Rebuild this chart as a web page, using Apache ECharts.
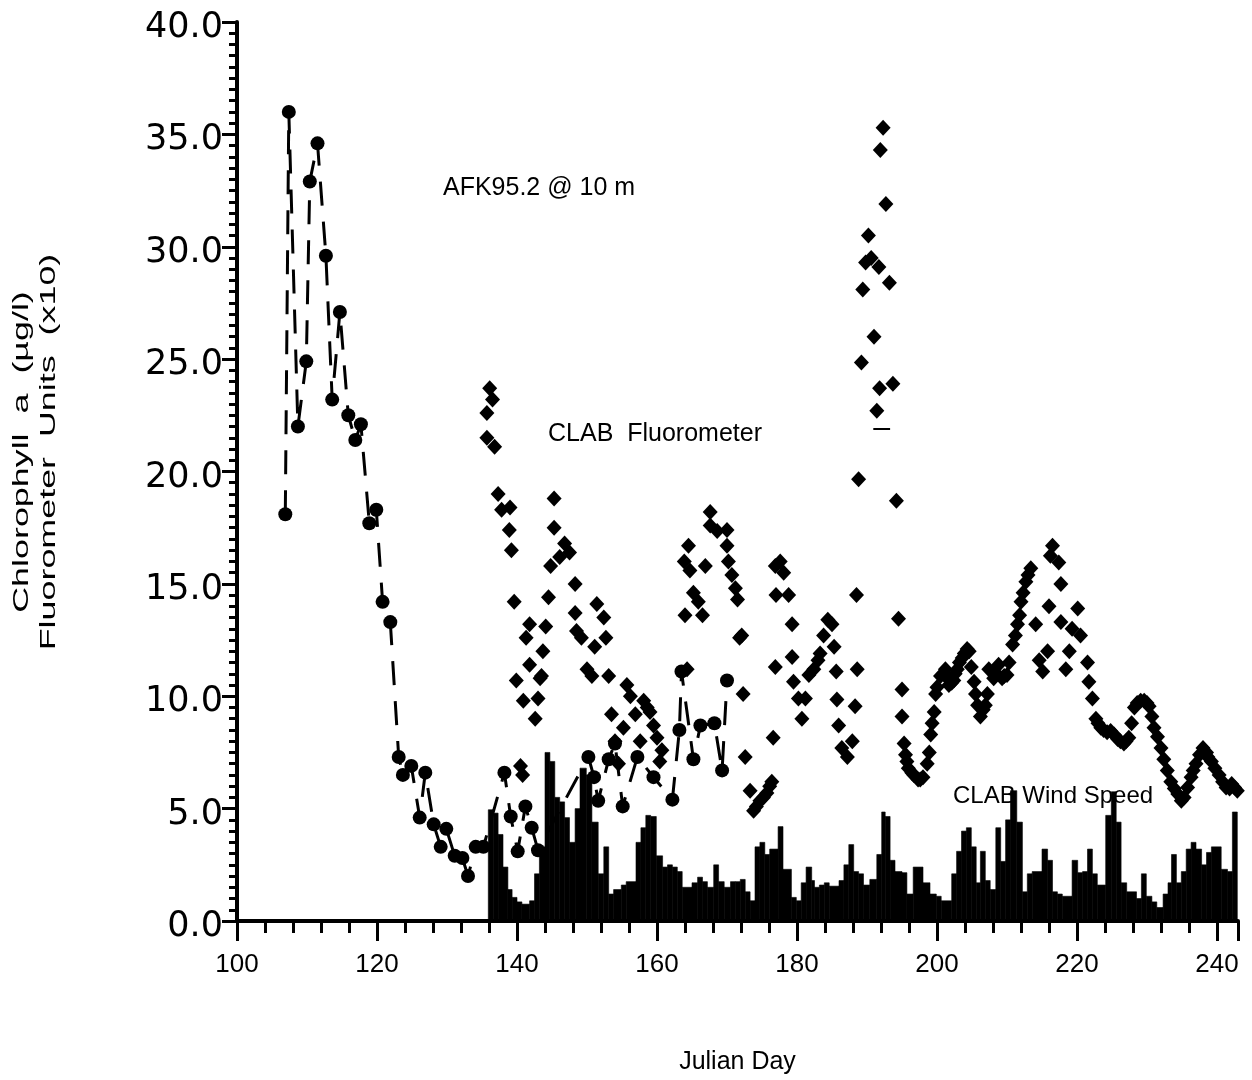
<!DOCTYPE html>
<html>
<head>
<meta charset="utf-8">
<script src="https://cdn.jsdelivr.net/npm/echarts@6/dist/echarts.min.js"></script>
<style>
html,body{margin:0;padding:0;background:#fff;}
#chart{width:1252px;height:1080px;}
</style>
</head>
<body>
<div id="chart"></div>
<script>
// ---- DATA ----
// AFK95.2 @ 10 m  (circles, dashed line): Julian day, chlorophyll
const afkDay = [106.9,107.4,108.7,109.9,110.4,111.5,112.7,113.6,114.7,115.9,116.9,117.7,118.9,119.9,120.8,121.9,123.1,123.7,124.9,126.1,126.9,128.1,129.1,129.9,131.1,132.2,133.0,134.1,135.2,138.2,139.1,140.1,141.2,142.1,143.0,150.2,151.0,151.6,153.1,154.0,155.1,157.2,159.5,162.2,163.2,163.5,165.2,166.2,168.2,169.3,170.0];
const afkVal = [18.1,36.0,22.0,24.9,32.9,34.6,29.6,23.2,27.1,22.5,21.4,22.1,17.7,18.3,14.2,13.3,7.3,6.5,6.9,4.6,6.6,4.3,3.3,4.1,2.9,2.8,2.0,3.3,3.3,6.6,4.65,3.1,5.1,4.15,3.15,7.3,6.4,5.35,7.2,7.9,5.1,7.3,6.4,5.4,8.5,11.1,7.2,8.7,8.8,6.7,10.7];

// CLAB Fluorometer (diamonds): [Julian day, fluorometer units x10]
const fluorometer = [[135.7,22.6],[135.7,21.5],[136.1,23.7],[136.5,23.2],[136.8,21.1],[137.3,19.0],[137.8,18.3],[138.9,17.4],[139.0,18.4],[139.2,16.5],[139.6,14.2],[139.9,10.7],[140.5,6.9],[140.8,6.5],[140.9,9.8],[141.3,12.6],[141.8,13.2],[141.8,11.4],[142.6,9.0],[143.0,9.9],[143.3,10.8],[143.5,10.9],[143.7,12.0],[144.1,13.1],[144.5,14.4],[144.8,15.8],[145.3,17.5],[145.3,18.8],[146.1,16.2],[146.8,16.8],[147.5,16.4],[148.3,15.0],[148.3,13.7],[148.5,12.9],[149.2,12.6],[150.0,11.2],[150.7,10.9],[151.1,12.2],[151.4,14.1],[152.4,13.5],[152.7,12.6],[153.1,10.9],[153.5,9.2],[154.0,8.0],[154.5,7.0],[155.2,8.6],[155.7,10.5],[156.2,10.0],[156.9,9.2],[157.6,8.0],[158.1,9.8],[158.6,9.5],[159.0,9.3],[159.5,8.7],[160.0,8.15],[160.4,7.1],[160.7,7.6],[163.9,16.0],[164.0,13.6],[164.3,11.2],[164.5,16.7],[164.7,15.6],[165.2,14.6],[165.9,14.2],[166.5,13.6],[166.9,15.8],[167.6,18.2],[167.6,17.6],[168.6,17.35],[170.0,17.4],[170.0,16.7],[170.2,16.0],[170.7,15.4],[171.2,14.8],[171.5,14.3],[171.8,12.6],[172.1,12.7],[172.3,10.1],[172.6,7.3],[173.3,5.8],[173.8,4.9],[174.2,5.1],[174.7,5.35],[175.2,5.5],[175.7,5.7],[176.1,6.0],[176.4,6.2],[176.6,8.15],[176.9,11.3],[176.9,15.8],[177.0,14.5],[177.6,16.0],[178.1,15.5],[178.8,14.5],[179.3,13.2],[179.3,11.75],[179.5,10.65],[180.2,9.9],[180.7,9.0],[181.2,9.9],[181.7,10.95],[182.4,11.2],[183.0,11.6],[183.3,11.9],[183.8,12.7],[184.4,13.4],[185.0,13.2],[185.3,12.2],[185.6,11.1],[185.7,9.85],[185.95,8.7],[186.4,7.7],[187.2,7.3],[187.9,8.0],[188.3,9.55],[188.6,11.2],[188.5,14.5],[188.8,19.65],[189.2,24.85],[189.4,28.1],[189.8,29.3],[190.2,30.5],[190.6,29.5],[191.0,26.0],[191.4,22.7],[191.7,29.1],[191.8,23.7],[191.9,34.3],[192.3,35.3],[192.7,31.9],[193.2,28.4],[193.7,23.9],[194.2,18.7],[194.5,13.45],[195.0,10.3],[195.0,9.1],[195.3,7.9],[195.5,7.4],[195.7,7.1],[195.9,6.8],[196.4,6.6],[196.7,6.5],[197.3,6.3],[197.6,6.3],[198.0,6.4],[198.6,7.0],[198.9,7.5],[199.1,8.3],[199.3,8.8],[199.6,9.3],[199.8,10.1],[200.0,10.4],[200.5,10.9],[200.9,11.0],[201.2,11.2],[201.5,10.8],[201.7,10.5],[202.1,10.6],[202.4,10.7],[202.6,11.0],[202.9,11.2],[203.2,11.5],[203.6,11.7],[203.9,11.9],[204.3,12.1],[204.6,12.0],[204.9,11.3],[205.3,10.65],[205.5,10.1],[205.8,9.6],[206.2,9.1],[206.6,9.4],[206.9,9.6],[207.2,10.1],[207.4,11.2],[208.1,10.8],[208.5,11.0],[208.8,11.4],[209.3,10.8],[209.6,10.9],[210.0,10.95],[210.3,11.5],[210.8,12.3],[211.2,12.7],[211.5,13.2],[211.8,13.6],[212.0,14.2],[212.3,14.6],[212.7,15.1],[213.0,15.4],[213.4,15.7],[214.1,13.2],[214.6,11.6],[215.1,11.1],[215.8,12.0],[216.0,14.0],[216.2,16.25],[216.5,16.7],[217.4,15.95],[217.7,15.0],[217.7,13.3],[218.4,11.2],[218.9,12.0],[219.3,13.0],[220.1,13.9],[220.5,12.7],[221.5,11.5],[221.7,10.65],[222.2,9.9],[222.7,9.0],[223.0,8.8],[223.4,8.6],[223.8,8.5],[224.3,8.4],[224.8,8.45],[225.3,8.3],[225.8,8.1],[226.2,8.0],[226.7,7.9],[227.0,8.0],[227.4,8.15],[227.8,8.8],[228.2,9.5],[228.6,9.7],[229.1,9.8],[229.6,9.8],[230.0,9.7],[230.3,9.55],[230.7,9.1],[231.0,8.6],[231.5,8.2],[232.0,7.7],[232.4,7.2],[232.9,6.7],[233.4,6.2],[233.9,5.9],[234.4,5.65],[234.9,5.35],[235.3,5.5],[235.8,5.94],[236.3,6.4],[236.6,6.7],[237.0,7.0],[237.5,7.4],[238.0,7.7],[238.5,7.5],[238.7,7.3],[239.2,7.1],[239.7,6.8],[240.3,6.5],[240.8,6.2],[241.3,5.94],[241.8,5.9],[242.1,6.1],[242.5,5.94],[242.9,5.8]];

// CLAB Wind Speed (histogram bars): bin start day, bin end day, speed
const windStart = [135.9,136.6,137.3,138.0,138.7,139.3,140.0,140.7,141.8,142.5,143.2,144.0,144.7,145.4,146.1,146.8,147.5,148.3,149.0,149.9,150.7,151.6,152.4,153.1,153.8,154.9,155.6,157.0,157.7,158.4,159.1,159.9,160.8,161.5,162.2,162.9,163.6,165.0,165.8,166.5,167.2,168.1,168.8,169.6,170.5,171.2,171.9,172.6,173.3,174.0,174.7,175.4,176.1,177.3,178.0,179.2,179.9,180.6,181.3,182.1,182.5,183.2,183.9,184.6,186.0,186.7,187.4,188.1,188.8,189.5,190.4,191.4,192.1,192.6,193.3,194.0,195.0,195.7,196.6,198.0,199.0,199.9,200.6,202.1,202.8,203.5,204.2,204.9,205.6,206.2,206.9,207.6,208.4,209.1,209.8,210.5,211.4,212.2,212.9,213.6,215.0,215.8,216.5,217.2,217.9,219.3,220.1,220.8,221.5,222.2,222.9,224.1,224.9,225.6,226.3,227.1,228.5,229.2,229.9,230.7,231.4,232.3,233.0,233.5,234.2,234.9,235.6,236.3,237.0,237.8,238.5,239.2,240.6,241.5,242.2];
const windEnd = [136.6,137.3,138.0,138.7,139.3,140.0,140.7,141.8,142.5,143.2,144.0,144.7,145.4,146.1,146.8,147.5,148.3,149.0,149.9,150.7,151.6,152.4,153.1,153.8,154.9,155.6,157.0,157.7,158.4,159.1,159.9,160.8,161.5,162.2,162.9,163.6,165.0,165.8,166.5,167.2,168.1,168.8,169.6,170.5,171.2,171.9,172.6,173.3,174.0,174.7,175.4,176.1,177.3,178.0,179.2,179.9,180.6,181.3,182.1,182.5,183.2,183.9,184.6,186.0,186.7,187.4,188.1,188.8,189.5,190.4,191.4,192.1,192.6,193.3,194.0,195.0,195.7,196.6,198.0,199.0,199.9,200.6,202.1,202.8,203.5,204.2,204.9,205.6,206.2,206.9,207.6,208.4,209.1,209.8,210.5,211.4,212.2,212.9,213.6,215.0,215.8,216.5,217.2,217.9,219.3,220.1,220.8,221.5,222.2,222.9,224.1,224.9,225.6,226.3,227.1,228.5,229.2,229.9,230.7,231.4,232.3,233.0,233.5,234.2,234.9,235.6,236.3,237.0,237.8,238.5,239.2,240.6,241.5,242.2,242.9];
const windSpeed = [4.95,4.8,3.85,2.4,1.4,1.05,0.85,0.75,0.9,2.1,3.3,7.5,7.1,5.5,5.3,4.6,3.5,5.0,6.8,6.5,4.4,2.1,3.3,1.2,1.4,1.6,1.75,3.5,4.15,4.7,4.65,2.9,2.4,2.5,2.4,2.2,1.5,1.7,1.95,1.75,1.5,2.5,1.75,1.5,1.75,1.75,1.85,1.3,0.9,3.3,3.5,2.96,3.2,4.2,2.3,1.05,0.9,1.7,2.4,1.8,1.5,1.6,1.7,1.55,1.8,2.5,3.4,2.2,2.1,1.6,1.85,2.96,4.85,4.65,2.7,2.2,2.15,1.2,2.4,1.7,1.2,1.1,0.9,2.1,3.1,4.0,4.15,3.3,1.7,3.1,1.8,1.4,4.15,2.65,4.5,5.8,4.4,1.3,2.1,2.2,3.2,2.7,1.3,1.2,1.1,2.7,2.15,2.2,3.2,2.1,1.6,4.7,5.75,4.4,1.7,1.3,1.0,2.1,1.1,0.85,0.6,1.2,1.7,2.96,1.7,2.2,3.2,3.5,3.2,2.5,3.05,3.3,2.3,2.2,4.85];

// axis tick labels
const xTickLabels = ['100','120','140','160','180','200','220','240'];
const yTickLabels = ['0.0','5.0','10.0','15.0','20.0','25.0','30.0','35.0','40.0'];

// ---- CHART ----
const chart = echarts.init(document.getElementById('chart'), null, {renderer: 'canvas'});
const windData = windSpeed.map((v, i) => [windStart[i], windEnd[i], v]);
const afkData = afkDay.map((d, i) => [d, afkVal[i]]);

const option = {
  animation: false,
  backgroundColor: '#fff',
  grid: {left: 237, right: 14, top: 22, bottom: 153, containLabel: false},
  xAxis: {
    type: 'value', min: 100, max: 243, interval: 20,
    axisLine: {show: true, onZero: false, lineStyle: {color: '#000', width: 4}},
    axisTick: {show: true, inside: false, length: 20, lineStyle: {color: '#000', width: 3}},
    minorTick: {show: true, splitNumber: 5, length: 12, lineStyle: {color: '#000', width: 3}},
    splitLine: {show: false},
    axisLabel: {
      margin: 31, color: '#000', fontFamily: 'Liberation Sans', fontSize: 26,
      showMaxLabel: false,
      formatter: function (v) { const i = Math.round((v - 100) / 20); return (v >= 100 && v <= 240 && Math.abs(v - 100 - i*20) < 1e-6) ? xTickLabels[i] : ''; }
    },
    name: 'Julian Day', nameLocation: 'middle', nameGap: 129,
    nameTextStyle: {color: '#000', fontFamily: 'Liberation Sans', fontSize: 25}
  },
  yAxis: {
    type: 'value', min: 0, max: 40, interval: 5,
    axisLine: {show: true, lineStyle: {color: '#000', width: 4}},
    axisTick: {show: true, inside: false, length: 15, lineStyle: {color: '#000', width: 3}},
    minorTick: {show: true, splitNumber: 10, length: 8, lineStyle: {color: '#000', width: 3}},
    splitLine: {show: false},
    axisLabel: {
      margin: 14, color: '#000', fontFamily: 'DejaVu Sans', fontSize: 35,
      verticalAlign: 'top', lineHeight: 12,
      formatter: function (v) { return yTickLabels[Math.round(v / 5)]; }
    }
  },
  graphic: [
    {type: 'text', left: 443, top: 176, style: {text: 'AFK95.2 @ 10 m', fill: '#000', font: '25px "Liberation Sans"'}},
    {type: 'text', left: 548, top: 422, style: {text: 'CLAB  Fluorometer', fill: '#000', font: '25px "Liberation Sans"'}},
    {type: 'text', left: 953, top: 784, style: {text: 'CLAB Wind Speed', fill: '#000', font: '24px "Liberation Sans"'}},
    {type: 'text', x: 35, y: 452, rotation: Math.PI / 2, scaleX: 1.63, scaleY: 1,
     style: {text: 'Chlorophyll  a  (\u00b5g/l)\nFluorometer  Units  (x10)', fill: '#000', font: '22px "Liberation Sans"', align: 'center', verticalAlign: 'middle', lineHeight: 27}}
  ],
  series: [
    {
      name: 'CLAB Wind Speed', type: 'custom', data: windData,
      encode: {x: [0, 1], y: 2},
      renderItem: function (params, api) {
        const p0 = api.coord([api.value(0), api.value(2)]);
        const p1 = api.coord([api.value(1), 0]);
        return {type: 'rect', shape: {x: p0[0], y: p0[1], width: p1[0] - p0[0], height: p1[1] - p0[1]}, style: {fill: '#000', stroke: '#000', lineWidth: 0.6}};
      },
      z: 1
    },
    {
      name: 'CLAB Fluorometer', type: 'scatter', data: fluorometer,
      symbol: 'diamond', symbolSize: [15, 16], itemStyle: {color: '#000', opacity: 1},
      markLine: {silent: true, symbol: 'none', label: {show: false}, lineStyle: {color: '#000', width: 2, type: 'solid'},
        data: [[{coord: [190.9, 21.9]}, {coord: [193.3, 21.9]}]]},
      z: 2
    },
    {
      name: 'AFK95.2 @ 10 m', type: 'line', data: afkData,
      symbol: 'circle', symbolSize: 14, showSymbol: true,
      itemStyle: {color: '#000', opacity: 1},
      lineStyle: {color: '#000', width: 3, type: [24, 16]},
      z: 3
    }
  ]
};
chart.setOption(option);
</script>
</body>
</html>
